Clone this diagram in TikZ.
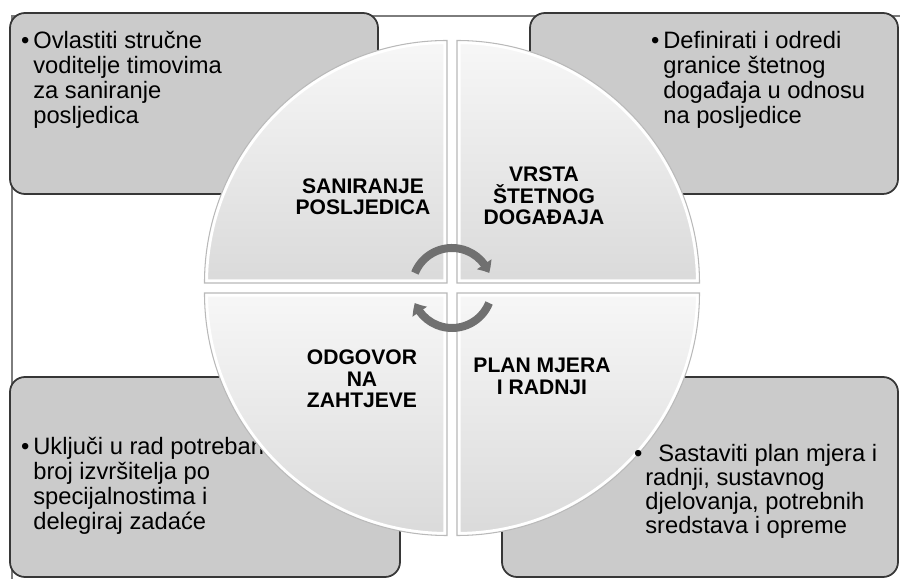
\documentclass[tikz,border=0pt]{standalone}
\usepackage{fontspec}
\setmainfont{Liberation Sans}
\usepackage{tikz}
\usetikzlibrary{arrows.meta, bending, positioning}
\definecolor{boxgray}{RGB}{203,203,203}
\definecolor{rim}{RGB}{55,55,55}
\definecolor{quadlight}{RGB}{247,247,247}
\definecolor{quaddark}{RGB}{218,218,218}
\definecolor{arrowgray}{RGB}{112,112,112}
\definecolor{framegray}{RGB}{125,125,125}
\newcommand{\quadsector}[1]{(0,0) -- (#1:4.85) arc[start angle=#1, delta angle=90, radius=4.85] -- cycle}
\tikzset{
    infobox/.style={rectangle, rounded corners=0.3cm, draw=rim, line width=1pt, fill=boxgray},
    infotext/.style={anchor=north west, inner sep=0pt, align=left, font=\fontsize{13.5}{14.2}\selectfont},
    quadlabel/.style={inner sep=0pt, align=center, font=\fontsize{12}{12.2}\selectfont\bfseries},
    quadfill/.style={top color=quadlight, bottom color=quaddark},
    cyclearrow/.style={line width=0.16cm, draw=arrowgray, -{Triangle[length=0.2cm, width=0.34cm, bend]}}
}

\begin{document}
\begin{tikzpicture}
    \useasboundingbox (-9.04,-5.82) rectangle (8.96,5.76);

    % Frame
    \draw[framegray, line width=0.8pt] (-8.8,-5.82) -- (-8.8,5.44) -- (8.96,5.44);

    % Corner boxes
    \node[infobox, minimum width=7.36cm, minimum height=3.62cm] (saniranjebox) at (-5.16,3.69) {};
    \node[infobox, minimum width=7.36cm, minimum height=3.62cm] (vrstabox) at (5.24,3.69) {};
    \node[infobox, minimum width=7.8cm, minimum height=4cm] (odgovorbox) at (-4.94,-3.78) {};
    \node[infobox, minimum width=7.92cm, minimum height=4cm] (planbox) at (4.96,-3.78) {};

    % Box texts
    \node[infotext] (saniranjetext) at (-8.38,5.14) {\llap{\textbullet\hspace{0.08cm}}Ovlastiti stručne\\voditelje timovima\\za saniranje\\posljedica};
    \node[infotext] (vrstatext) at (4.22,5.14) {\llap{\textbullet\hspace{0.08cm}}Definirati i odredi\\granice štetnog\\događaja u odnosu\\na posljedice};
    \node[infotext] (odgovortext) at (-8.38,-2.98) {\llap{\textbullet\hspace{0.08cm}}Uključi u rad potreban\\broj izvršitelja po\\specijalnostima i\\delegiraj zadaće};

    % Circle quadrants
    \foreach \a/\dx/\dy in {90/-1/1, 0/1/1, 270/1/-1, 180/-1/-1} {
        \begin{scope}[shift={(\dx*0.1,\dy*0.1)}]
            \path[quadfill] \quadsector{\a};
            \begin{scope}
                \clip \quadsector{\a};
                \draw[white, line width=4pt] \quadsector{\a};
            \end{scope}
            \draw[gray!55, line width=0.6pt] \quadsector{\a};
        \end{scope}
    }

    % Text of the last box sits over the rim
    \node[infotext, font=\fontsize{13.5}{13.6}\selectfont] (plantext) at (3.86,-3.12) {\llap{\textbullet\hspace{0.06cm}}\hspace{0.26cm}Sastaviti plan mjera i\\radnji, sustavnog\\djelovanja, potrebnih\\sredstava i opreme};

    % Quadrant labels
    \node[quadlabel] (saniranje) at (-1.78,1.83) {SANIRANJE\\POSLJEDICA};
    \node[quadlabel] (vrsta) at (1.84,1.84) {VRSTA\\ŠTETNOG\\DOGAĐAJA};
    \node[quadlabel] (odgovor) at (-1.8,-1.82) {ODGOVOR\\NA\\ZAHTJEVE};
    \node[quadlabel] (plan) at (1.8,-1.77) {PLAN MJERA\\I RADNJI};

    % Cycle arrows
    \draw[cyclearrow] (158:0.8) arc[start angle=158, end angle=22, radius=0.8];
    \draw[cyclearrow] (-22:0.8) arc[start angle=-22, end angle=-158, radius=0.8];
\end{tikzpicture}
\end{document}
